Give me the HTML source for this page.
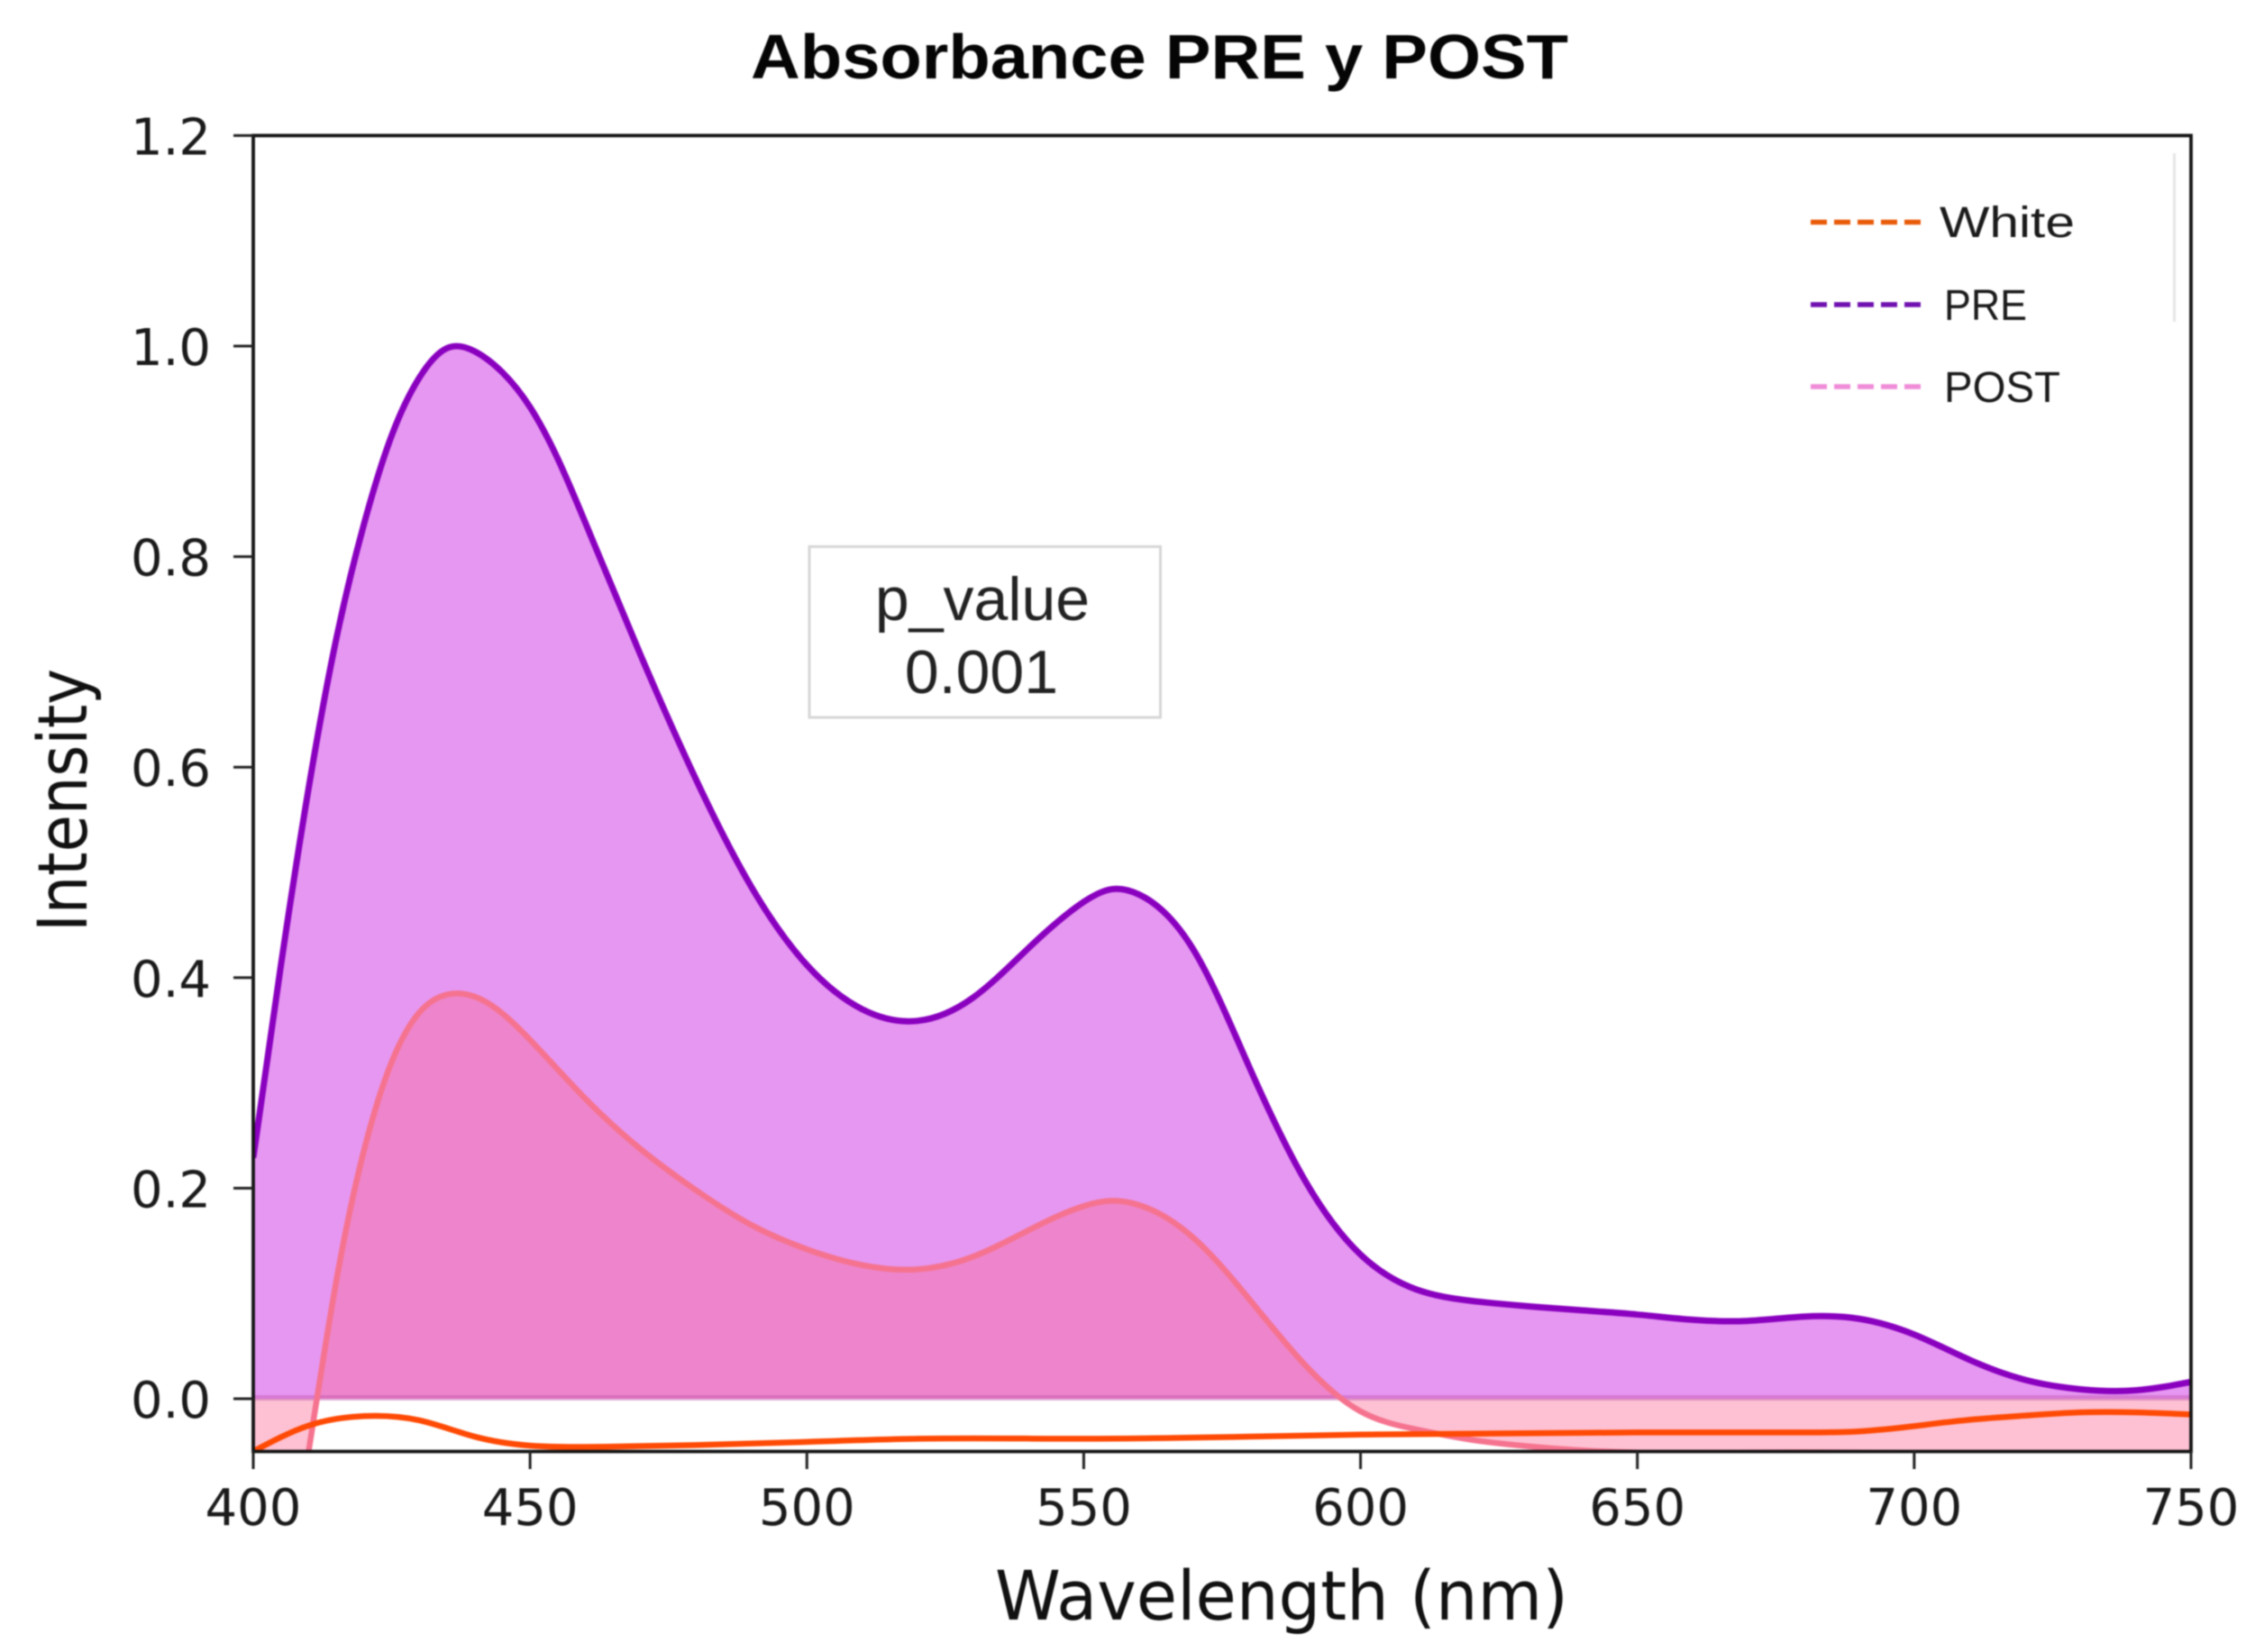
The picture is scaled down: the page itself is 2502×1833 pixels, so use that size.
<!DOCTYPE html>
<html lang="en">
<head>
<meta charset="utf-8">
<title>Absorbance PRE y POST</title>
<style>
  html, body { margin: 0; padding: 0; background: #fff; width: 2502px; height: 1833px; overflow: hidden; }
  #chart { display: block; width: 2502px; height: 1833px; overflow: hidden; filter: blur(0.7px); }
  .tick { font-family: "DejaVu Sans", sans-serif; font-size: 56px; fill: #1a1a1a; }
  .axis-title { font-family: "DejaVu Sans", sans-serif; font-size: 76px; fill: #111; }
  .legend-label { font-family: "Liberation Sans", sans-serif; font-size: 48px; fill: #1a1a1a; }
  .p-text { font-family: "Liberation Sans", sans-serif; font-size: 68px; fill: #222; text-anchor: middle; }
</style>
</head>
<body>
<svg id="chart" xmlns="http://www.w3.org/2000/svg" viewBox="0 0 2502 1833" width="2502" height="1833">
  <rect x="0" y="0" width="2502" height="1833" fill="#ffffff"></rect>
  <defs>
    <clipPath id="plot-clip"><rect x="281" y="150" width="2150" height="1460.5"></rect></clipPath>
  </defs>
  <g id="plot" clip-path="url(#plot-clip)"></g>
  <g id="axes"></g>

  <text x="833" y="87" font-family="'Liberation Sans', sans-serif" font-weight="700" font-size="70" fill="#050505" textLength="907" lengthAdjust="spacingAndGlyphs">Absorbance PRE y POST</text>
  <text class="axis-title" x="1104" y="1797" textLength="636" lengthAdjust="spacingAndGlyphs">Wavelength (nm)</text>
  <text class="axis-title" transform="translate(96,1034) rotate(-90)" x="0" y="0" textLength="292" lengthAdjust="spacingAndGlyphs">Intensity</text>

  <g>
    <rect x="898" y="606.5" width="389.5" height="189.5" fill="#ffffff" stroke="#d6d6d6" stroke-width="3"></rect>
    <text class="p-text" x="1090" y="688">p_value</text>
    <text class="p-text" x="1089" y="769">0.001</text>
  </g>

  <g>
    <rect x="2411" y="170" width="3" height="187" fill="#e6e6e6"></rect>
    <g>
      <line x1="2009" x2="2134" y1="246.5" y2="246.5" stroke="#e85a08" stroke-width="5.5" stroke-dasharray="18 8"></line>
      <text class="legend-label" x="2152" y="263" textLength="150" lengthAdjust="spacingAndGlyphs">White</text>
    </g>
    <g>
      <line x1="2009" x2="2134" y1="338" y2="338" stroke="#6f10b0" stroke-width="5.5" stroke-dasharray="18 8"></line>
      <text class="legend-label" x="2157" y="355" textLength="92" lengthAdjust="spacingAndGlyphs">PRE</text>
    </g>
    <g>
      <line x1="2009" x2="2134" y1="429" y2="429" stroke="#f08cd8" stroke-width="5.5" stroke-dasharray="18 8"></line>
      <text class="legend-label" x="2157" y="446" textLength="129" lengthAdjust="spacingAndGlyphs">POST</text>
    </g>
  </g>
</svg>

<script>
const xTickValues = [400, 450, 500, 550, 600, 650, 700, 750];
const yTickValues = [0, 0.2, 0.4, 0.6, 0.8, 1.0, 1.2];

const preWavelengths = [400, 405, 410, 415, 420, 425, 430, 435, 440, 445, 450, 455, 460, 470, 480, 490, 500, 510, 520, 530, 540, 550, 555, 560, 570, 580, 590, 600, 610, 620, 630, 640, 650, 660, 670, 680, 690, 700, 710, 720, 730, 740, 750];
const preValues = [0.229, 0.412, 0.580, 0.722, 0.831, 0.915, 0.970, 0.998, 0.995, 0.975, 0.942, 0.893, 0.832, 0.706, 0.588, 0.486, 0.412, 0.370, 0.359, 0.381, 0.428, 0.472, 0.484, 0.479, 0.425, 0.314, 0.207, 0.137, 0.104, 0.093, 0.088, 0.084, 0.080, 0.075, 0.074, 0.078, 0.076, 0.061, 0.037, 0.018, 0.009, 0.008, 0.016];

const postWavelengths = [400, 405, 408, 410, 415, 420, 425, 430, 435, 440, 445, 450, 460, 470, 480, 490, 500, 510, 520, 530, 540, 550, 555, 560, 570, 580, 590, 600, 610, 620, 630, 640, 650, 670, 690, 700, 710, 720, 750];
const postValues = [-0.15, -0.15, -0.11, -0.05, 0.112, 0.236, 0.320, 0.367, 0.384, 0.382, 0.366, 0.341, 0.285, 0.237, 0.198, 0.165, 0.142, 0.127, 0.123, 0.135, 0.160, 0.183, 0.188, 0.184, 0.152, 0.094, 0.032, -0.012, -0.029, -0.039, -0.045, -0.049, -0.051, -0.051, -0.051, -0.052, -0.055, -0.060, -0.075];

const whiteWavelengths = [400, 410, 420, 430, 440, 450, 460, 470, 480, 500, 520, 550, 580, 600, 650, 680, 690, 700, 710, 720, 730, 740, 750];
const whiteValues = [-0.05, -0.0255, -0.0165, -0.0205, -0.036, -0.0445, -0.0458, -0.045, -0.044, -0.041, -0.038, -0.038, -0.036, -0.034, -0.032, -0.032, -0.031, -0.026, -0.020, -0.016, -0.013, -0.013, -0.015];

const X_DOMAIN = [400, 750];
const X_RANGE = [281, 2431];
const Y_DOMAIN = [0, 1.2];
const Y_RANGE = [1552, 150.4];

function xScale(v) {
  return X_RANGE[0] + (v - X_DOMAIN[0]) * (X_RANGE[1] - X_RANGE[0]) / (X_DOMAIN[1] - X_DOMAIN[0]);
}
function yScale(v) {
  return Y_RANGE[0] + (v - Y_DOMAIN[0]) * (Y_RANGE[1] - Y_RANGE[0]) / (Y_DOMAIN[1] - Y_DOMAIN[0]);
}

/* C2 natural cubic spline through the data, expressed as bezier segments */
function curveSegments(xs, ys) {
  const px = xs.map(xScale);
  const py = ys.map(yScale);
  const n = px.length;
  const h = [];
  for (let i = 0; i < n - 1; i++) h.push(px[i + 1] - px[i]);
  const c = new Array(n).fill(0);
  const d = new Array(n).fill(0);
  const m = new Array(n).fill(0);
  for (let i = 1; i < n - 1; i++) {
    const a = h[i - 1];
    const b = 2 * (h[i - 1] + h[i]);
    const r = 6 * ((py[i + 1] - py[i]) / h[i] - (py[i] - py[i - 1]) / h[i - 1]);
    const den = b - a * c[i - 1];
    c[i] = h[i] / den;
    d[i] = (r - a * d[i - 1]) / den;
  }
  for (let i = n - 2; i > 0; i--) m[i] = d[i] - c[i] * m[i + 1];
  let path = '';
  for (let i = 0; i < n - 1; i++) {
    const s0 = (py[i + 1] - py[i]) / h[i] - h[i] * (2 * m[i] + m[i + 1]) / 6;
    const s1 = (py[i + 1] - py[i]) / h[i] + h[i] * (m[i] + 2 * m[i + 1]) / 6;
    const t = h[i] / 3;
    path += ' C' + (px[i] + t).toFixed(2) + ' ' + (py[i] + s0 * t).toFixed(2) + ' ' +
      (px[i + 1] - t).toFixed(2) + ' ' + (py[i + 1] - s1 * t).toFixed(2) + ' ' +
      px[i + 1].toFixed(2) + ' ' + py[i + 1].toFixed(2);
  }
  return { d: path, startX: px[0], startY: py[0], endX: px[n - 1] };
}

function linePath(xs, ys) {
  const s = curveSegments(xs, ys);
  return 'M' + s.startX.toFixed(2) + ' ' + s.startY.toFixed(2) + s.d;
}
function areaPath(xs, ys) {
  const s = curveSegments(xs, ys);
  const zero = yScale(0).toFixed(2);
  return 'M' + s.startX.toFixed(2) + ' ' + zero + ' L' + s.startX.toFixed(2) + ' ' + s.startY.toFixed(2) + s.d + ' L' + s.endX.toFixed(2) + ' ' + zero + ' Z';
}

const SVG_NS = 'http://www.w3.org/2000/svg';
const plot = document.getElementById('plot');
const axes = document.getElementById('axes');

const preArea = document.createElementNS(SVG_NS, 'path');


preArea.setAttribute('d', areaPath(preWavelengths, preValues));
preArea.setAttribute('fill', '#e697f2');
plot.appendChild(preArea);

const postArea = document.createElementNS(SVG_NS, 'path');


postArea.setAttribute('d', areaPath(postWavelengths, postValues));
postArea.setAttribute('fill', 'rgba(250,108,150,0.42)');
plot.appendChild(postArea);

const zeroBand = document.createElementNS(SVG_NS, 'line');


zeroBand.setAttribute('x1', xScale(X_DOMAIN[0]));
zeroBand.setAttribute('x2', xScale(X_DOMAIN[1]));
zeroBand.setAttribute('y1', yScale(0) - 1);
zeroBand.setAttribute('y2', yScale(0) - 1);
zeroBand.setAttribute('stroke', 'rgba(190,80,170,0.42)');
zeroBand.setAttribute('stroke-width', '6');
plot.appendChild(zeroBand);

const postLine = document.createElementNS(SVG_NS, 'path');


postLine.setAttribute('d', linePath(postWavelengths, postValues));
postLine.setAttribute('fill', 'none');
postLine.setAttribute('stroke', '#f5738f');
postLine.setAttribute('stroke-width', '6.5');
plot.appendChild(postLine);

const preLine = document.createElementNS(SVG_NS, 'path');


preLine.setAttribute('d', linePath(preWavelengths, preValues));
preLine.setAttribute('fill', 'none');
preLine.setAttribute('stroke', '#8a00bf');
preLine.setAttribute('stroke-width', '7');
plot.appendChild(preLine);

const whiteLine = document.createElementNS(SVG_NS, 'path');


whiteLine.setAttribute('d', linePath(whiteWavelengths, whiteValues));
whiteLine.setAttribute('fill', 'none');
whiteLine.setAttribute('stroke', '#ff4a05');
whiteLine.setAttribute('stroke-width', '6.5');
plot.appendChild(whiteLine);

const frame = document.createElementNS(SVG_NS, 'rect');


frame.setAttribute('x', X_RANGE[0]);
frame.setAttribute('y', Y_RANGE[1]);
frame.setAttribute('width', X_RANGE[1] - X_RANGE[0]);
frame.setAttribute('height', 1610.5 - Y_RANGE[1]);
frame.setAttribute('fill', 'none');
frame.setAttribute('stroke', '#151515');
frame.setAttribute('stroke-width', '3.8');
axes.appendChild(frame);

xTickValues.forEach(function (v) {
  const mark = document.createElementNS(SVG_NS, 'line');
  
  
  mark.setAttribute('x1', xScale(v));
  mark.setAttribute('x2', xScale(v));
  mark.setAttribute('y1', 1610);
  mark.setAttribute('y2', 1630);
  mark.setAttribute('stroke', '#222');
  mark.setAttribute('stroke-width', '3');
  axes.appendChild(mark);

  const label = document.createElementNS(SVG_NS, 'text');
  
  
  label.setAttribute('class', 'tick');
  label.setAttribute('x', xScale(v));
  label.setAttribute('y', 1692);
  label.setAttribute('text-anchor', 'middle');
  label.textContent = String(v);
  axes.appendChild(label);
});

yTickValues.forEach(function (v) {
  const mark = document.createElementNS(SVG_NS, 'line');
  
  
  mark.setAttribute('x1', 259);
  mark.setAttribute('x2', 281);
  mark.setAttribute('y1', yScale(v));
  mark.setAttribute('y2', yScale(v));
  mark.setAttribute('stroke', '#222');
  mark.setAttribute('stroke-width', '3');
  axes.appendChild(mark);

  const label = document.createElementNS(SVG_NS, 'text');
  
  
  label.setAttribute('class', 'tick');
  label.setAttribute('x', 234);
  label.setAttribute('y', yScale(v) + 21);
  label.setAttribute('text-anchor', 'end');
  label.textContent = v.toFixed(1);
  axes.appendChild(label);
});
</script>
</body>
</html>
